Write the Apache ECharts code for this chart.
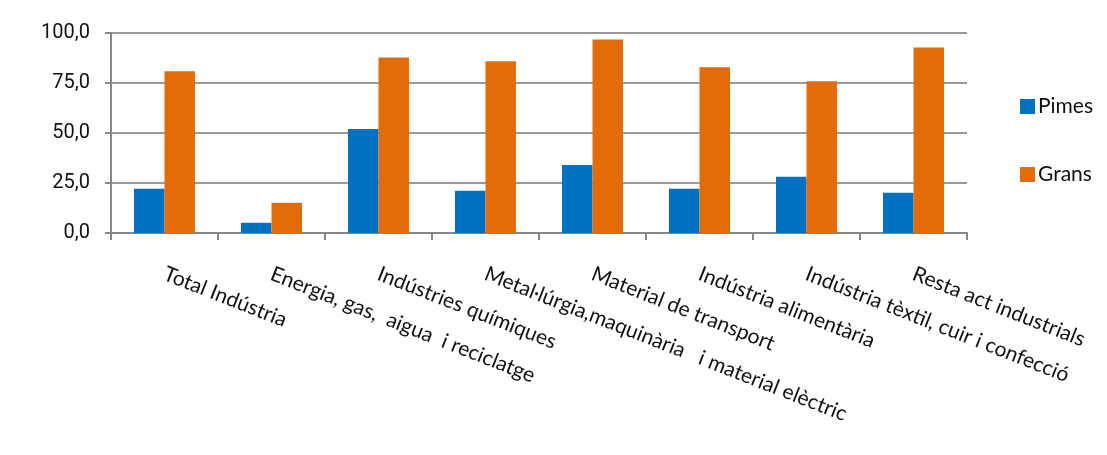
<!DOCTYPE html>
<html>
<head>
<meta charset="utf-8">
<script src="https://cdn.jsdelivr.net/npm/echarts@6/dist/echarts.min.js"></script>
<style>
  html, body { margin: 0; padding: 0; background: #fff; }
  #chart { width: 1107px; height: 455px; }
</style>
</head>
<body>
<div id="chart"></div>
<script>
'use strict';

var categories = ['Total Indústria', 'Energia, gas,  aigua  i reciclatge', 'Indústries químiques',
  'Metal·lúrgia,maquinària   i material elèctric', 'Material de transport', 'Indústria alimentària',
  'Indústria tèxtil, cuir i confecció', 'Resta act industrials'];
var pimes = [22.1, 5.1, 52.0, 21.1, 34.0, 22.1, 28.1, 20.1];
var grans = [80.9, 15.1, 87.8, 85.9, 96.8, 82.9, 75.9, 92.8];
var yTicks = [0, 25, 50, 75, 100];

var axisGray = '#868686';

var option = {
  animation: false,
  color: ['#0070c0', '#e36c0a'],
  grid: { left: 111, right: 140, top: 33, bottom: 222, containLabel: false },
  legend: {
    orient: 'vertical',
    left: 1015,
    top: 91,
    itemGap: 47,
    itemWidth: 15,
    itemHeight: 15,
    icon: 'rect',
    textStyle: { fontFamily: 'Lato', fontSize: 21, color: '#111', padding: [0, 0, 0, -2] },
    data: ['Pimes', 'Grans']
  },
  xAxis: {
    type: 'category',
    data: categories,
    axisLine: { lineStyle: { color: axisGray, width: 2 } },
    axisTick: { show: true, length: 7, lineStyle: { color: axisGray, width: 2 } },
    axisLabel: {
      rotate: -21.5,
      interval: 0,
      margin: 40,
      fontFamily: 'Lato',
      fontSize: 21,
      color: '#111'
    }
  },
  yAxis: {
    type: 'value',
    min: 0,
    max: 100,
    interval: 25,
    axisLine: { show: true, lineStyle: { color: axisGray, width: 2 } },
    axisTick: { show: true, length: 6, lineStyle: { color: axisGray, width: 2 } },
    splitLine: { lineStyle: { color: '#9a9a9a', width: 2 } },
    axisLabel: {
      margin: 21,
      fontFamily: 'Roboto',
      fontSize: 20,
      color: '#111',
      formatter: function (v) {
        return yTicks.indexOf(v) >= 0 ? v.toFixed(1).replace('.', ',') : '';
      }
    }
  },
  series: [
    { name: 'Pimes', type: 'bar', data: pimes, barGap: '0%', barCategoryGap: '43%' },
    { name: 'Grans', type: 'bar', data: grans, barGap: '0%', barCategoryGap: '43%' }
  ]
};

var myChart = echarts.init(document.getElementById('chart'));
myChart.setOption(option);
</script>
</body>
</html>
